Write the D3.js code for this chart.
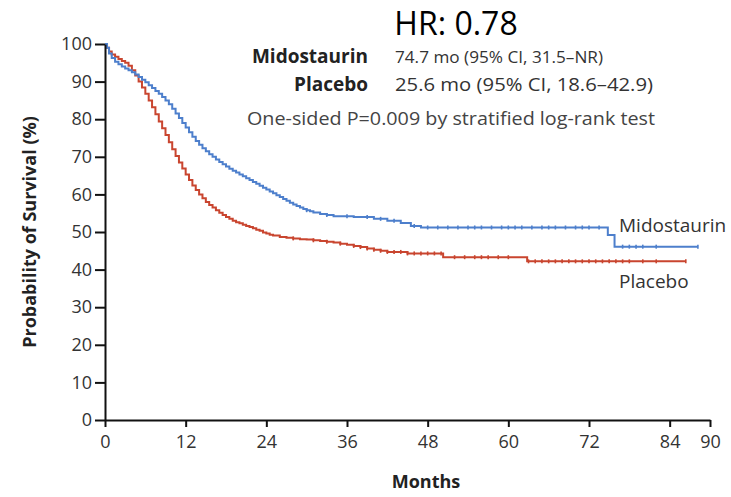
<!DOCTYPE html>
<html>
<head>
<meta charset="utf-8">
<script src="https://cdn.jsdelivr.net/npm/d3@7/dist/d3.min.js"></script>
<style>
  html, body { margin: 0; padding: 0; background: #fff; }
  svg { display: block; font-family: "Open Sans", "Noto Sans", sans-serif; }
</style>
</head>
<body>
<svg id="chart" width="731" height="497"></svg>
<script>
// Kaplan–Meier overall survival, months vs. percent surviving
const xTicks = [0, 12, 24, 36, 48, 60, 72, 84, 90];
const yTicks = [0, 10, 20, 30, 40, 50, 60, 70, 80, 90, 100];

// [month, survival %] at each step
const midostaurin = [
  [0, 100], [0.3, 99], [0.6, 97.5], [1, 96.3], [1.5, 95.3], [2, 94.6], [2.5, 94], [3, 93.5],
  [3.5, 93], [4, 92.5], [4.5, 91.9], [5, 91.2], [5.5, 90.5], [6, 89.8], [6.5, 89], [7, 88.3],
  [7.5, 87.5], [8, 86.8], [8.5, 85.9], [9, 85], [9.5, 84], [10, 82.8], [10.5, 81.5], [11, 80.3],
  [11.5, 79], [12, 77.8], [12.5, 76.5], [13, 75.3], [13.5, 74.2], [14, 73.2], [14.5, 72.3],
  [15, 71.5], [15.5, 70.7], [16, 70], [16.5, 69.3], [17, 68.6], [17.5, 68], [18, 67.4],
  [18.5, 66.8], [19, 66.3], [19.5, 65.8], [20, 65.3], [20.5, 64.8], [21, 64.3], [21.5, 63.8],
  [22, 63.3], [22.5, 62.8], [23, 62.3], [23.5, 61.8], [24, 61.3], [24.5, 60.8], [25, 60.3],
  [25.5, 59.8], [26, 59.3], [26.5, 58.8], [27, 58.3], [27.5, 57.8], [28, 57.3], [28.5, 56.9],
  [29, 56.5], [29.5, 56.1], [30, 55.8], [30.5, 55.5], [31, 55.2], [32, 54.8], [33, 54.5],
  [34, 54.2], [37, 54], [40, 53.5], [42, 53], [44, 52.4], [45.5, 51.6], [47, 51.2],
  [74.8, 49.2], [75.8, 46.1], [88.2, 46.1]
];
const placebo = [
  [0, 100], [0.3, 99], [0.6, 98], [1, 97.2], [1.5, 96.6], [2, 96], [2.5, 95.5], [3, 95],
  [3.5, 94.2], [4, 93], [4.5, 91.6], [5, 90], [5.5, 88.4], [6, 86.8], [6.5, 85], [7, 83.2],
  [7.5, 81.3], [8, 79.4], [8.5, 77.6], [9, 75.8], [9.5, 73.9], [10, 72], [10.5, 70.2],
  [11, 68.5], [11.5, 66.9], [12, 65.3], [12.5, 63.8], [13, 62.4], [13.5, 61.2], [14, 60],
  [14.5, 59], [15, 58], [15.5, 57.2], [16, 56.5], [16.5, 55.8], [17, 55.1], [17.5, 54.5],
  [18, 54], [18.5, 53.5], [19, 53], [19.5, 52.6], [20, 52.3], [20.5, 51.9], [21, 51.6],
  [21.5, 51.3], [22, 51], [22.5, 50.6], [23, 50.3], [23.5, 49.9], [24, 49.6], [24.5, 49.3],
  [25, 49.1], [26, 48.7], [27, 48.5], [28, 48.3], [29, 48.1], [30, 48], [31, 47.8],
  [32, 47.6], [33, 47.4], [34, 47.2], [35, 46.9], [36, 46.6], [37, 46.3], [38, 46],
  [39, 45.6], [40, 45.3], [41, 45], [42, 44.7], [45, 44.3], [50.3, 43.3], [62.8, 42.2],
  [86.4, 42.2]
];

// censoring times (months)
const midoCensor = [30, 33, 36, 39, 41, 43, 46, 48, 49.5, 51, 52.5, 54, 55, 56, 57.5, 59,
  60, 61, 62, 63.5, 65, 66, 67, 68.5, 70, 71, 72, 73.5, 77, 78, 79, 80, 82, 88.2];
const placCensor = [28, 31, 33, 35, 37, 38, 39, 40, 41, 42, 43, 44, 45, 46, 47, 48, 49,
  50, 52, 53.5, 55, 56, 57, 58.5, 60, 63, 64, 65, 66, 67, 68, 69, 70, 71, 72, 73, 74, 75,
  76, 77, 78, 80, 82, 86.4];

const seriesNames = ["Midostaurin", "Placebo"];
const medians = ["74.7 mo (95% CI, 31.5\u2013NR)", "25.6 mo (95% CI, 18.6\u201342.9)"];
const colors = ["#4d7fcc", "#c9452f"];

const svg = d3.select("#chart");
svg.append("rect").attr("width", 731).attr("height", 497).attr("fill", "#fff");

const x = d3.scaleLinear().domain([0, 90]).range([105, 710]);
const y = d3.scaleLinear().domain([0, 100]).range([420, 44]);

// step value at time t
function survAt(data, t) {
  let v = data[0][1];
  for (const d of data) { if (d[0] <= t) v = d[1]; else break; }
  return v;
}

const line = d3.line().x(d => x(d[0])).y(d => y(d[1])).curve(d3.curveStepAfter);

const series = [
  { data: midostaurin, censor: midoCensor, color: colors[0] },
  { data: placebo, censor: placCensor, color: colors[1] }
];

// draw placebo first so midostaurin sits on top
[series[1], series[0]].forEach(s => {
  svg.append("path").datum(s.data)
    .attr("fill", "none").attr("stroke", s.color).attr("stroke-width", 2)
    .attr("stroke-linejoin", "miter").attr("d", line);
  svg.append("g").selectAll("line").data(s.censor).join("line")
    .attr("x1", d => x(d)).attr("x2", d => x(d))
    .attr("y1", d => y(survAt(s.data, d)) - 2)
    .attr("y2", d => y(survAt(s.data, d)) + 2)
    .attr("stroke", s.color).attr("stroke-width", 1.6);
});

// axes
const xAxis = svg.append("g").attr("transform", `translate(0,${y(0)})`)
  .call(d3.axisBottom(x).tickValues(xTicks).tickSizeInner(7).tickSizeOuter(0).tickPadding(8));
const yAxis = svg.append("g").attr("transform", `translate(${x(0)},0)`)
  .call(d3.axisLeft(y).tickValues(yTicks).tickSizeInner(10).tickSizeOuter(0).tickPadding(3));

[xAxis, yAxis].forEach(g => {
  g.select(".domain").attr("stroke", "#111").attr("stroke-width", 2);
  g.selectAll(".tick line").attr("stroke", "#111").attr("stroke-width", 2);
  g.selectAll(".tick text").attr("fill", "#333").style("font-size", "18px")
    .style("font-family", "'Open Sans', sans-serif");
});

// axis titles
svg.append("text").attr("x", 426).attr("y", 488).attr("text-anchor", "middle")
  .attr("font-weight", 700).attr("font-size", 18).attr("fill", "#222").text("Months");
svg.append("text").attr("transform", "translate(36,232) rotate(-90)")
  .attr("text-anchor", "middle").attr("font-weight", 700).attr("font-size", 18)
  .attr("fill", "#222").text("Probability of Survival (%)");

// header block
svg.append("text").attr("x", 456).attr("y", 35).attr("text-anchor", "middle")
  .attr("font-size", 32).attr("fill", "#000").text("HR: 0.78");

const medianWidths = [208, 258];
const medianSizes = [17, 18];
seriesNames.forEach((name, i) => {
  const by = 63 + i * 28;
  svg.append("text").attr("x", 368).attr("y", by).attr("text-anchor", "end")
    .attr("font-weight", 700).attr("font-size", 19).attr("fill", "#222").text(name);
  svg.append("text").attr("x", 395).attr("y", by)
    .attr("font-size", medianSizes[i]).attr("fill", "#333")
    .attr("textLength", medianWidths[i]).attr("lengthAdjust", "spacingAndGlyphs")
    .text(medians[i]);
});
svg.append("text").attr("x", 247).attr("y", 125)
  .attr("font-size", 18).attr("fill", "#444")
  .attr("textLength", 408).attr("lengthAdjust", "spacingAndGlyphs")
  .text("One-sided P=0.009 by stratified log-rank test");

// curve end labels
svg.append("text").attr("x", 619).attr("y", 232).attr("font-size", 19)
  .attr("fill", "#333").text(seriesNames[0]);
svg.append("text").attr("x", 619).attr("y", 288).attr("font-size", 19)
  .attr("fill", "#333").text(seriesNames[1]);
</script>
</body>
</html>
